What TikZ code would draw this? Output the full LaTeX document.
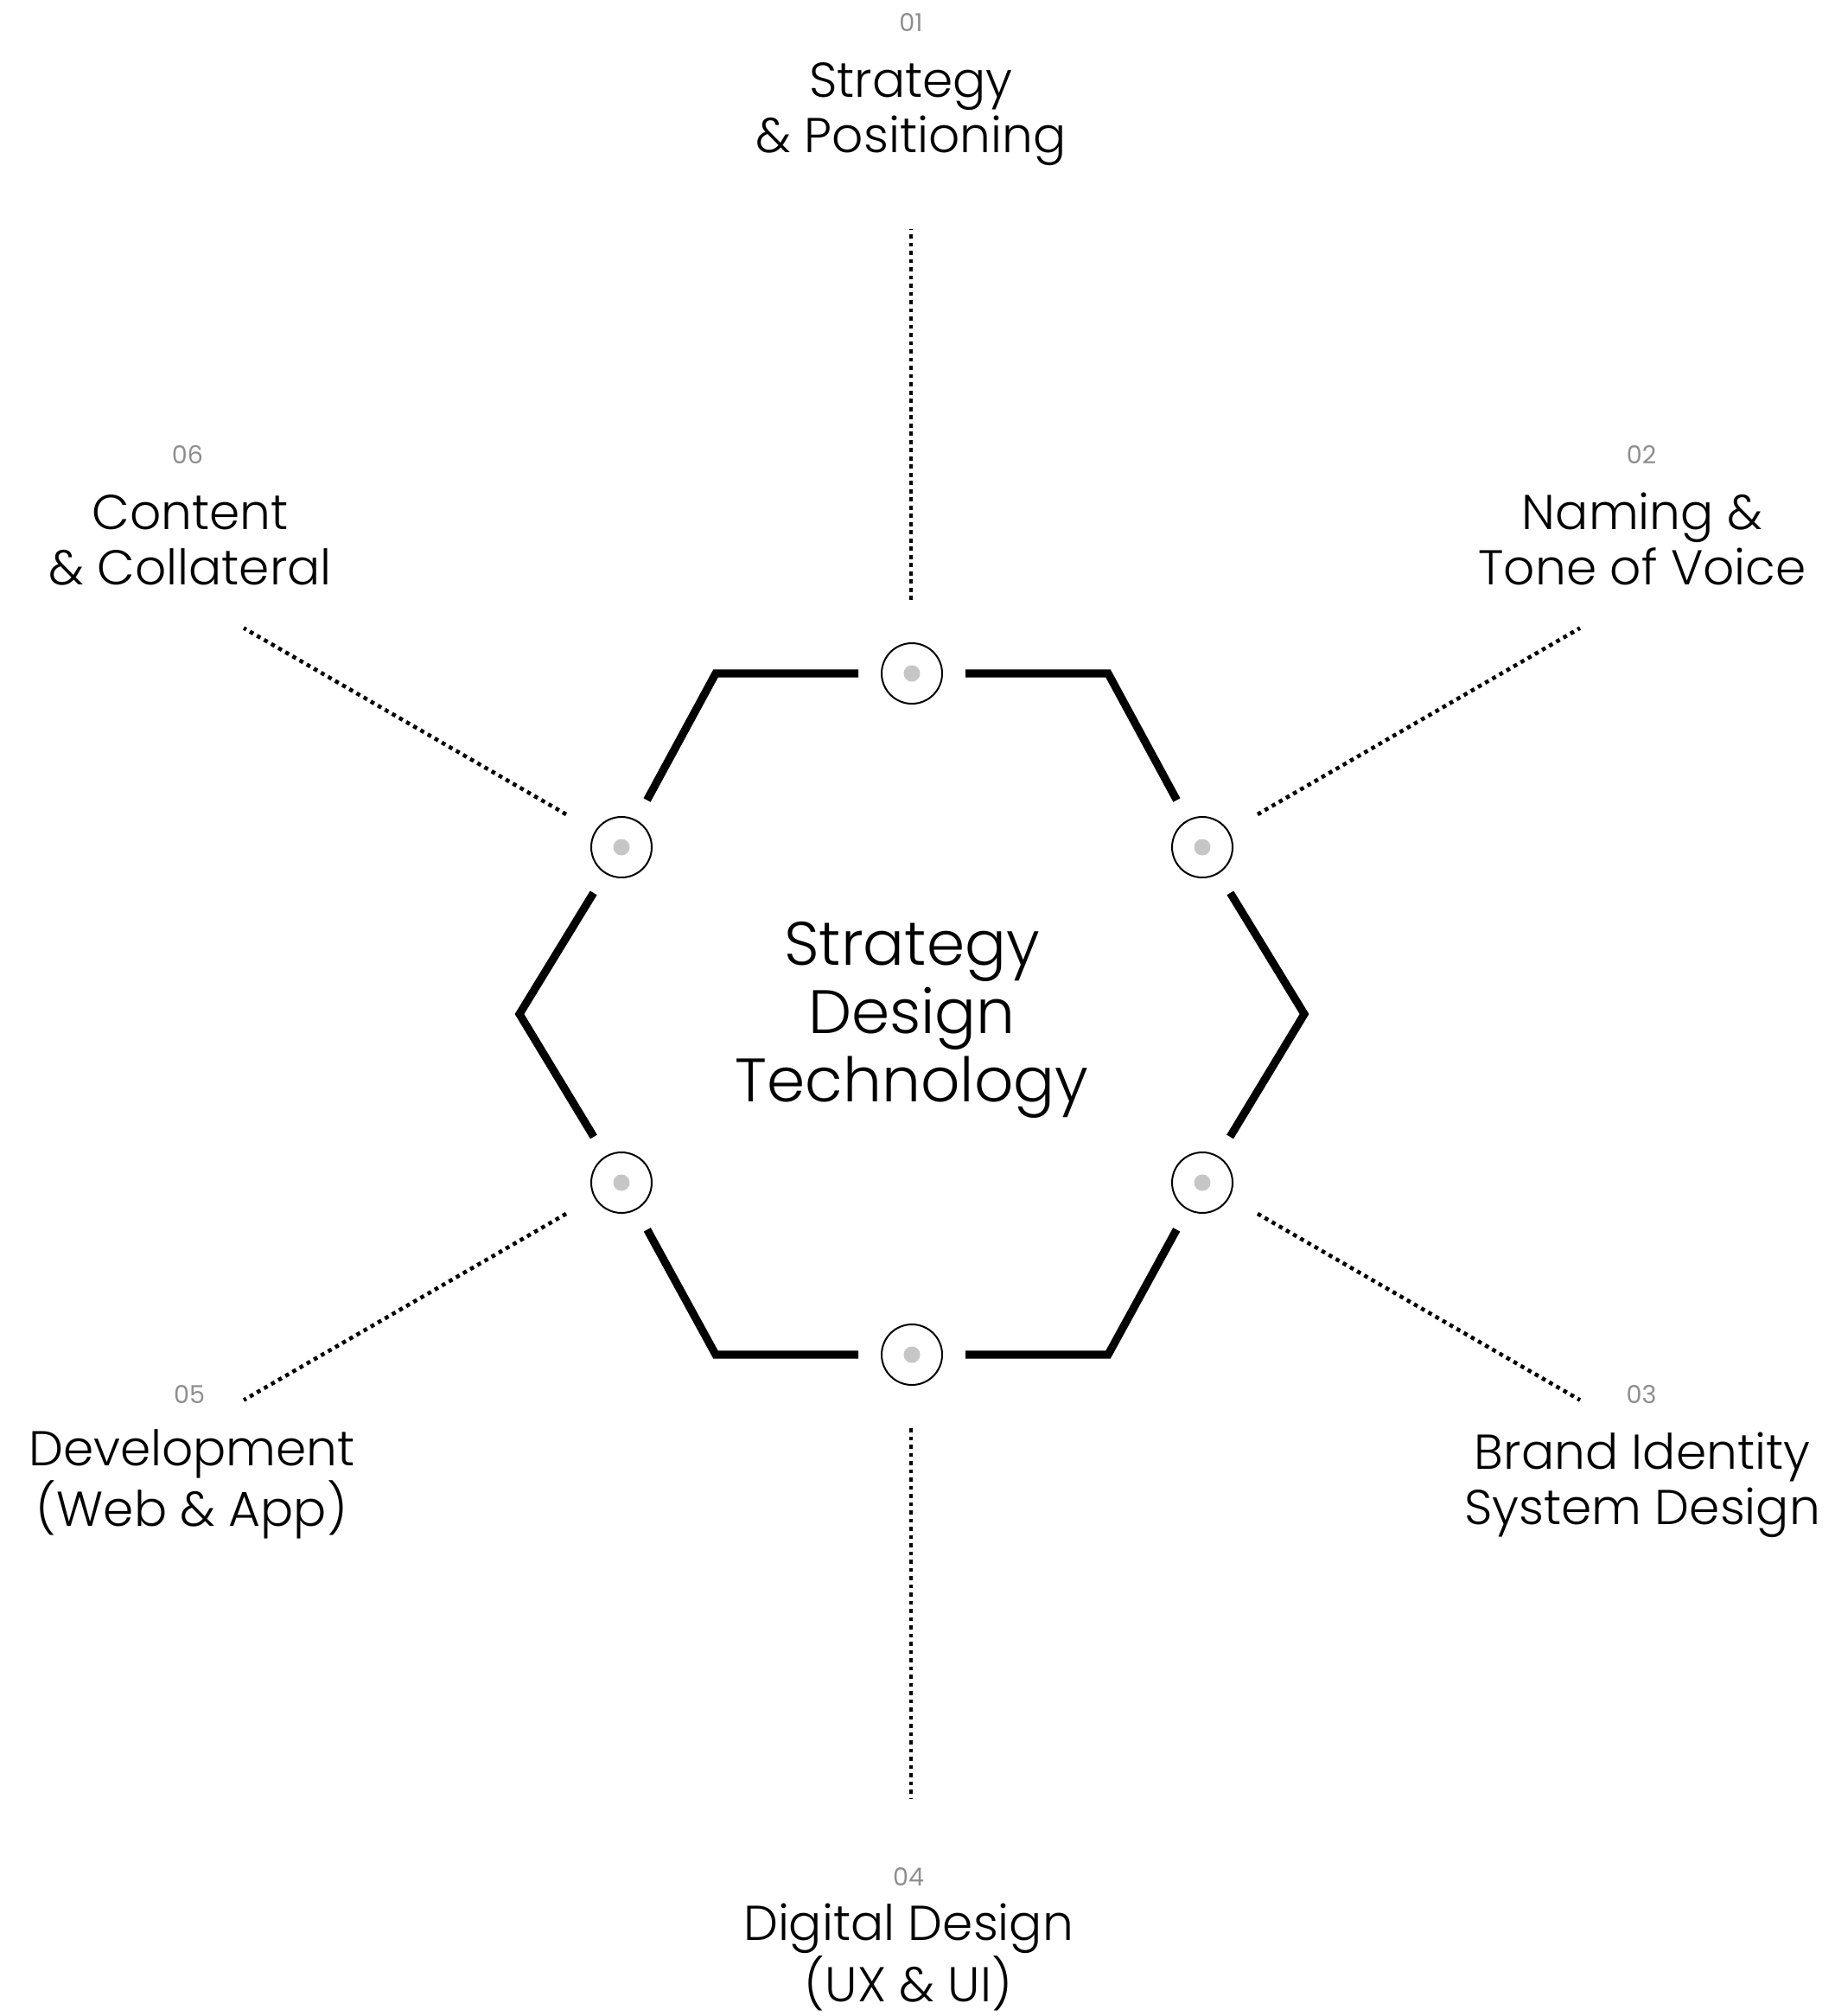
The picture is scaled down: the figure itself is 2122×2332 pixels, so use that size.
\documentclass[tikz,border=0pt]{standalone}
\usepackage{fontspec}
\setmainfont{Poppins}[UprightFont=* Light]
\newfontfamily\numfont{Poppins}
\definecolor{dotgray}{HTML}{C6C6C6}
\definecolor{numgray}{HTML}{8E8E8E}
\tikzset{
  hexline/.style={line width=4.6pt, line join=miter, line cap=butt},
  hub/.style={circle, draw, line width=1pt, minimum size=35pt, inner sep=0pt, outer sep=13.5pt},
  ray/.style={line width=2.3pt, dash pattern=on 2.3pt off 2.45pt},
  lbl/.style={font=\fontsize{28.3}{32}\selectfont, align=center, anchor=base, inner sep=0pt},
  num/.style={font=\numfont\fontsize{14.3}{16}\selectfont, text=numgray, anchor=base, inner sep=0pt},
  core/.style={font=\fontsize{35.5}{39.5}\selectfont, align=center, anchor=base, inner sep=0pt},
}
\begin{document}
\begin{tikzpicture}[x=0.5pt, y=-0.5pt]
\useasboundingbox (0,0) rectangle (2122,2332);
% hubs near edge midpoints
\node[hub] (c1) at (1055,779) {};
\node[hub] (c2) at (1391,980) {};
\node[hub] (c3) at (1391,1368) {};
\node[hub] (c4) at (1055,1567) {};
\node[hub] (c5) at (719,1368) {};
\node[hub] (c6) at (719,980) {};
\foreach \c in {c1,c2,c3,c4,c5,c6} \fill[dotgray] (\c) circle (4.75pt);
% hexagon corners
\coordinate (v0) at (1509,1173);
\coordinate (v60) at (1282,779);
\coordinate (v120) at (828,779);
\coordinate (v180) at (601,1173);
\coordinate (v240) at (828,1567);
\coordinate (v300) at (1282,1567);
\draw[hexline] (c1) -- (v60) -- (c2);
\draw[hexline] (c2) -- (v0) -- (c3);
\draw[hexline] (c3) -- (v300) -- (c4);
\draw[hexline] (c4) -- (v240) -- (c5);
\draw[hexline] (c5) -- (v180) -- (c6);
\draw[hexline] (c6) -- (v120) -- (c1);
% centre text (anchor = baseline of last line)
\node[core] (core) at (1055,1274) {Strategy\\Design\\Technology};
% rays
\coordinate (r1a) at (1054,694);  \coordinate (r1b) at (1054,265);
\coordinate (r2a) at (1455,942);  \coordinate (r2b) at (1828,726.5);
\coordinate (r3a) at (1455,1404); \coordinate (r3b) at (1828,1619.5);
\coordinate (r4a) at (1054,1652); \coordinate (r4b) at (1054,2081);
\coordinate (r5a) at (655,1404);  \coordinate (r5b) at (282,1619.5);
\coordinate (r6a) at (655,942);   \coordinate (r6b) at (282,726.5);
\foreach \i in {1,...,6} \draw[ray] (r\i a) -- (r\i b);
% labels (anchor = baseline of last line)
\node[num] (n1) at (1054,37) {01};
\node[lbl] (t1) at (1054,177) {Strategy\\\&~Positioning};
\node[num] (n2) at (1899,536) {02};
\node[lbl] (t2) at (1900,676) {Naming \&\\Tone of Voice};
\node[num] (n3) at (1899,1623) {03};
\node[lbl] (t3) at (1900,1763) {Brand Identity\\System Design};
\node[num] (n4) at (1051,2181) {04};
\node[lbl] (t4) at (1051,2315) {Digital Design\\(UX \& UI)};
\node[num] (n5) at (219,1623) {05};
\node[lbl] (t5) at (222,1765) {Development\\(Web \& App)};
\node[num] (n6) at (217,536) {06};
\node[lbl] (t6) at (220,676) {Content\\\&~Collateral};
\end{tikzpicture}
\end{document}
